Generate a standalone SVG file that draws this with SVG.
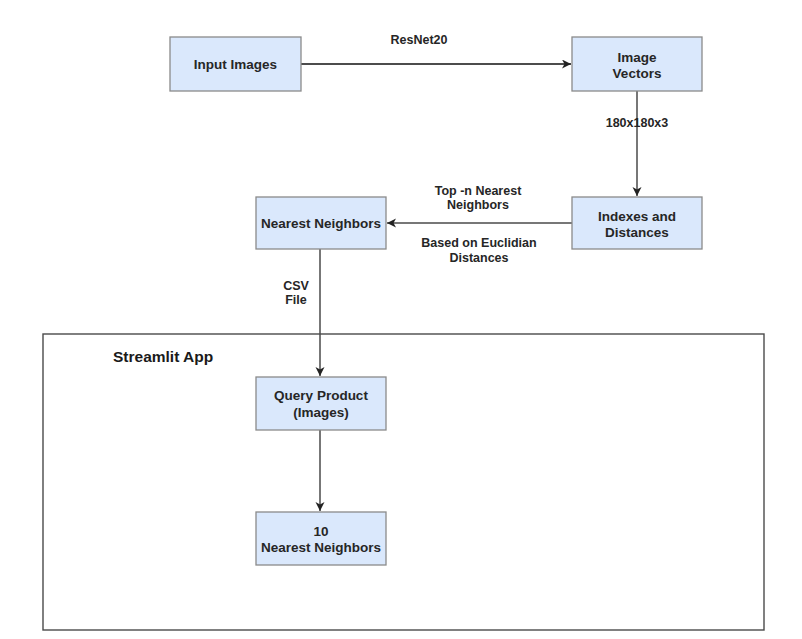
<svg xmlns="http://www.w3.org/2000/svg" width="802" height="639" viewBox="0 0 802 639">
  <defs>
    <style>
      .box { fill: #dae8fc; stroke: #8a8a8a; stroke-width: 1.3; }
      .t { font-family: "Liberation Sans", Arial, sans-serif; font-size: 13.5px; font-weight: bold; fill: #262626; text-anchor: middle; }
      .lbl { font-family: "Liberation Sans", Arial, sans-serif; font-size: 12.5px; font-weight: bold; fill: #262626; text-anchor: middle; }
      .edge { fill: none; stroke: #4a4a4a; stroke-width: 1.5; }
      .edge.dark { stroke: #111; }
      .container { fill: #ffffff; stroke: #4a4a4a; stroke-width: 1.4; }
    </style>
    <marker id="arr" markerUnits="userSpaceOnUse" markerWidth="12" markerHeight="10" refX="9" refY="4.5" orient="auto">
      <path d="M0,0 L9,4.5 L0,9 L2.5,4.5 z" fill="#222"/>
    </marker>
  </defs>
  <rect width="802" height="639" fill="#ffffff"/>

  <g id="streamlit-app">
    <rect class="container" x="43" y="334" width="721" height="296"/>
    <text x="113" y="362" font-family="Liberation Sans, Arial, sans-serif" font-size="15.5" font-weight="bold" fill="#1a1a1a">Streamlit App</text>
  </g>

  <g id="connectors">
    <line class="edge dark" x1="301" y1="64" x2="571" y2="64" marker-end="url(#arr)"/>
    <text class="lbl" x="419" y="44">ResNet20</text>

    <line class="edge" x1="637" y1="91" x2="637" y2="196" marker-end="url(#arr)"/>
    <text class="lbl" x="637" y="127">180x180x3</text>

    <line class="edge" x1="572" y1="223" x2="387" y2="223" marker-end="url(#arr)"/>
    <text class="lbl" x="478" y="195">Top -n Nearest</text>
    <text class="lbl" x="478" y="209">Neighbors</text>
    <text class="lbl" x="479" y="247">Based on Euclidian</text>
    <text class="lbl" x="479" y="262">Distances</text>

    <line class="edge" x1="320" y1="249" x2="320" y2="376" marker-end="url(#arr)"/>
    <text class="lbl" x="296" y="290">CSV</text>
    <text class="lbl" x="296" y="304">File</text>

    <line class="edge" x1="320" y1="430" x2="320" y2="511" marker-end="url(#arr)"/>
  </g>

  <g id="input-images">
    <rect class="box" x="170" y="37" width="131" height="54"/>
    <text class="t" x="235.5" y="69">Input Images</text>
  </g>

  <g id="image-vectors">
    <rect class="box" x="572" y="37" width="130" height="54"/>
    <text class="t" x="637" y="61.5">Image</text>
    <text class="t" x="637" y="77.5">Vectors</text>
  </g>

  <g id="indexes-distances">
    <rect class="box" x="572" y="197" width="130" height="52"/>
    <text class="t" x="637" y="220.5">Indexes and</text>
    <text class="t" x="637" y="236.5">Distances</text>
  </g>

  <g id="nearest-neighbors">
    <rect class="box" x="256" y="197" width="130" height="52"/>
    <text class="t" x="321" y="228">Nearest Neighbors</text>
  </g>

  <g id="query-product">
    <rect class="box" x="256" y="377" width="130" height="53"/>
    <text class="t" x="321" y="400">Query Product</text>
    <text class="t" x="321" y="416.5">(Images)</text>
  </g>

  <g id="ten-nearest-neighbors">
    <rect class="box" x="256" y="512" width="130" height="53"/>
    <text class="t" x="321" y="536">10</text>
    <text class="t" x="321" y="552">Nearest Neighbors</text>
  </g>
</svg>
